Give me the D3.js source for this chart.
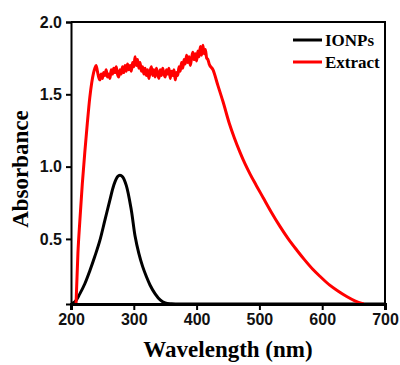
<!DOCTYPE html>
<html>
<head>
<meta charset="utf-8">
<script src="https://cdn.jsdelivr.net/npm/d3@7"></script>
<style>
  body { margin: 0; background: #fff; }
  .tick text { font-family: Arial, "Liberation Sans", sans-serif; font-weight: bold; font-size: 16px; fill: #111; }
</style>
</head>
<body>
<div id="chart"></div>
<script>
// DATA
const xTicks = [200, 300, 400, 500, 600, 700];
const yTicks = [0.5, 1.0, 1.5, 2.0];

const ionpsWl = [200, 206, 214, 222, 230, 238, 246, 254, 262, 268, 274, 278, 282, 288, 296, 302, 308, 314, 320, 326, 334, 342, 350, 360, 400, 500, 600, 700];
const ionpsAbs = [0.052, 0.064, 0.12, 0.19, 0.28, 0.38, 0.49, 0.63, 0.77, 0.87, 0.93, 0.94, 0.93, 0.87, 0.70, 0.52, 0.40, 0.31, 0.24, 0.18, 0.12, 0.078, 0.057, 0.051, 0.05, 0.05, 0.05, 0.05];

const extractWl = [208, 211, 214, 218, 222, 226, 230, 233, 236, 238,
  240, 242, 244, 246, 248, 250, 252, 254, 256, 258, 260, 262, 264, 266, 268, 270, 272, 274, 276, 278,
  280, 282, 284, 286, 288, 290, 292, 294, 296, 298, 300, 302, 304, 306, 308, 310, 312, 314, 316, 318,
  320, 322, 324, 326, 328, 330, 332, 334, 336, 338, 340, 342, 344, 346, 348, 350, 352, 354, 356, 358,
  360, 362, 364, 366, 368, 370, 372, 374, 376, 378, 380, 382, 384, 386, 388, 390, 392, 394, 396, 398,
  400, 402, 404, 406, 408, 410, 412, 414, 416, 418, 420,
  426, 434, 442, 452, 460, 469, 477, 485, 495, 506, 519, 533, 546, 560, 572, 585, 598, 612, 625, 639, 652, 666];
const extractAbs = [0.05, 0.40, 0.62, 0.88, 1.10, 1.30, 1.48, 1.58, 1.65, 1.68,
  1.70, 1.66, 1.62, 1.60, 1.64, 1.61, 1.65, 1.63, 1.67, 1.62, 1.64, 1.61, 1.67, 1.64, 1.68, 1.65, 1.69, 1.64, 1.62, 1.67,
  1.64, 1.69, 1.65, 1.70, 1.66, 1.71, 1.67, 1.70, 1.66, 1.72, 1.69, 1.76, 1.70, 1.74, 1.68, 1.72, 1.66, 1.69, 1.64, 1.68,
  1.63, 1.67, 1.61, 1.66, 1.69, 1.63, 1.67, 1.62, 1.68, 1.64, 1.61, 1.67, 1.63, 1.68, 1.64, 1.62, 1.67, 1.64, 1.68, 1.61,
  1.66, 1.63, 1.67, 1.60, 1.65, 1.63, 1.69, 1.66, 1.72, 1.68, 1.74, 1.71, 1.77, 1.72, 1.76, 1.70, 1.75, 1.79, 1.74, 1.78,
  1.73, 1.80, 1.76, 1.83, 1.77, 1.84, 1.78, 1.81, 1.75, 1.74, 1.71,
  1.67, 1.56, 1.45, 1.30, 1.20, 1.10, 1.02, 0.95, 0.87, 0.785, 0.685, 0.585, 0.50, 0.42, 0.355, 0.29, 0.235, 0.18, 0.14, 0.102, 0.072, 0.05];

const seriesNames = ["IONPs", "Extract"];
const seriesColors = ["#000000", "#ff0000"];

// MARGIN CONVENTIONS
const margin = { top: 22, right: 15, bottom: 61, left: 71 };
const outerWidth = 400;
const outerHeight = 365;
const width = outerWidth - margin.left - margin.right;
const height = outerHeight - margin.top - margin.bottom;

const svg = d3.select("#chart").append("svg")
    .attr("width", outerWidth)
    .attr("height", outerHeight);

const g = svg.append("g")
    .attr("transform", `translate(${margin.left}, ${margin.top})`);

// scales
const x = d3.scaleLinear().domain([200, 700]).range([0, width]);
const y = d3.scaleLinear().domain([0.05, 2.0]).range([height, 0]);

svg.append("defs").append("clipPath").attr("id", "clip")
  .append("rect").attr("y", -5).attr("width", width).attr("height", height + 5);

const line = d3.line()
    .x(d => x(d[0]))
    .y(d => y(d[1]));

const ionps = ionpsWl.map((w, i) => [w, ionpsAbs[i]]);
const extract = extractWl.map((w, i) => [w, extractAbs[i]]);

const plot = g.append("g").attr("clip-path", "url(#clip)");

plot.append("path")
    .datum(ionps)
    .attr("fill", "none")
    .attr("stroke", seriesColors[0])
    .attr("stroke-width", 3)
    .attr("d", line.curve(d3.curveCatmullRom));

plot.append("path")
    .datum(extract)
    .attr("fill", "none")
    .attr("stroke", seriesColors[1])
    .attr("stroke-width", 3)
    .attr("stroke-linejoin", "round")
    .attr("d", line.curve(d3.curveMonotoneX));

// frame (top and right)
g.append("path")
    .attr("d", `M0,0H${width}V${height}`)
    .attr("fill", "none")
    .attr("stroke", "#000")
    .attr("stroke-width", 2);

// axes
const xAxis = g.append("g")
    .attr("transform", `translate(0, ${height})`)
    .call(d3.axisBottom(x).tickValues(xTicks).tickSize(6).tickPadding(4).tickFormat(d3.format("d")));
xAxis.select(".domain").attr("stroke-width", 3);
xAxis.selectAll(".tick line").attr("stroke-width", 2);

const yAxis = g.append("g")
    .call(d3.axisLeft(y).tickValues(yTicks).tickSize(5).tickPadding(4).tickFormat(d3.format(".1f")));
yAxis.select(".domain").attr("stroke-width", 2);
yAxis.selectAll(".tick line").attr("stroke-width", 2);

// labels
svg.append("text")
    .attr("text-anchor", "middle")
    .attr("x", 228)
    .attr("y", 357)
    .style("font-family", "'Liberation Serif', 'Times New Roman', serif")
    .style("font-weight", "bold")
    .style("font-size", "23px")
    .text("Wavelength (nm)");

svg.append("text")
    .attr("text-anchor", "middle")
    .attr("transform", "translate(28, 169) rotate(-90)")
    .style("font-family", "'Liberation Serif', 'Times New Roman', serif")
    .style("font-weight", "bold")
    .style("font-size", "23px")
    .text("Absorbance");

// legend
const legend = svg.append("g").attr("transform", "translate(293, 40)");
seriesNames.forEach((name, i) => {
    const row = legend.append("g").attr("transform", `translate(0, ${i * 22})`);
    row.append("line")
        .attr("x1", 0).attr("x2", 29)
        .attr("stroke", seriesColors[i])
        .attr("stroke-width", 3);
    row.append("text")
        .attr("x", 32)
        .attr("dy", "0.35em")
        .style("font-family", "'Liberation Serif', 'Times New Roman', serif")
        .style("font-weight", "bold")
        .style("font-size", "17px")
        .text(name);
});
</script>
</body>
</html>
